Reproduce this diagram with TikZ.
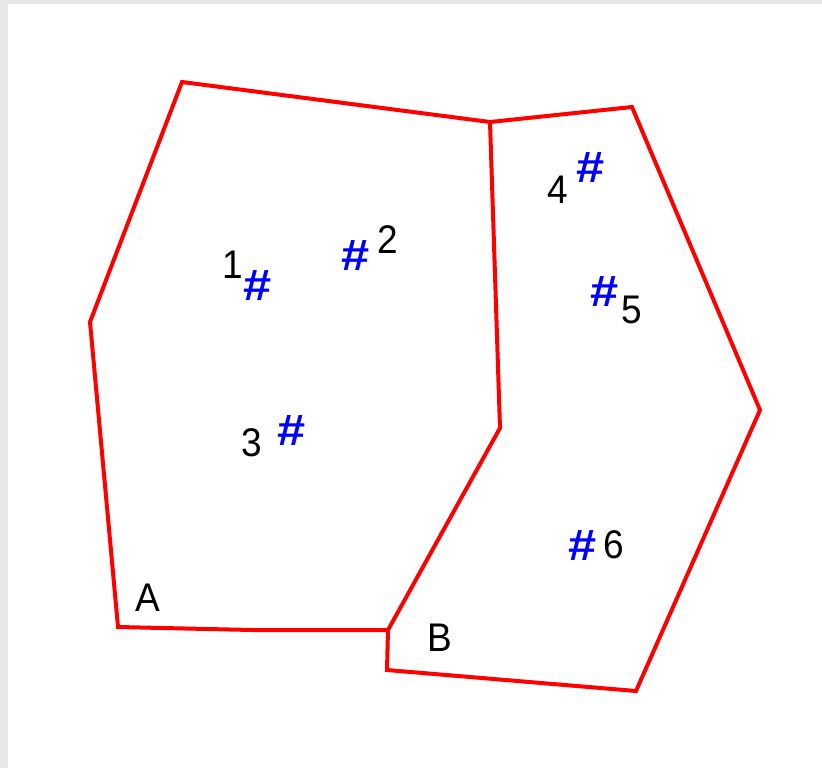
\documentclass[tikz,border=0pt]{standalone}
\usepackage{fontspec}
\setmainfont{Liberation Sans}
\begin{document}
\begin{tikzpicture}[x=1pt,y=-1pt,
  edge/.style={draw=red,line width=4pt,line join=miter},
  pt/.style={text=blue,font=\fontsize{44}{44}\selectfont\bfseries,inner sep=0pt,xscale=1.15,transform shape},
  lbl/.style={text=black,font=\fontsize{37}{37}\selectfont,inner sep=0pt,yscale=1.08,transform shape}]
\useasboundingbox (0,0) rectangle (822,768);
\fill[white] (0,0) rectangle (822,768);
\fill[gray!18] (0,0) rectangle (822,4);
\fill[gray!18] (0,0) rectangle (8,768);
% vertices
\coordinate (a1) at (182,82);
\coordinate (s1) at (490,122);
\coordinate (s2) at (500,428);
\coordinate (s3) at (388,630);
\coordinate (a2) at (252,630);
\coordinate (a3) at (118,627);
\coordinate (a4) at (90,322);
\coordinate (b1) at (632,107);
\coordinate (b2) at (760,410);
\coordinate (b3) at (636,691);
\coordinate (b4) at (387,670);
% polygons
\draw[edge] (a1) -- (s1) -- (s2) -- (s3) -- (a2) -- (a3) -- (a4) -- cycle;
\draw[edge] (s1) -- (b1) -- (b2) -- (b3) -- (b4) -- (s3);
% points
\node[pt] (p1) at (258,286) {\#};
\node[pt] (p2) at (356,256) {\#};
\node[pt] (p3) at (292,431) {\#};
\node[pt] (p4) at (591,168) {\#};
\node[pt] (p5) at (605,292) {\#};
\node[pt] (p6) at (583,546) {\#};
% labels
\node[lbl] (l1) at (233,265) {1};
\node[lbl] (l2) at (388,240) {2};
\node[lbl] (l3) at (252,443) {3};
\node[lbl] (l4) at (558,190) {4};
\node[lbl] (l5) at (632,310) {5};
\node[lbl] (l6) at (614,545) {6};
\node[lbl] (lA) at (148,598) {A};
\node[lbl] (lB) at (440,638) {B};
\end{tikzpicture}
\end{document}
